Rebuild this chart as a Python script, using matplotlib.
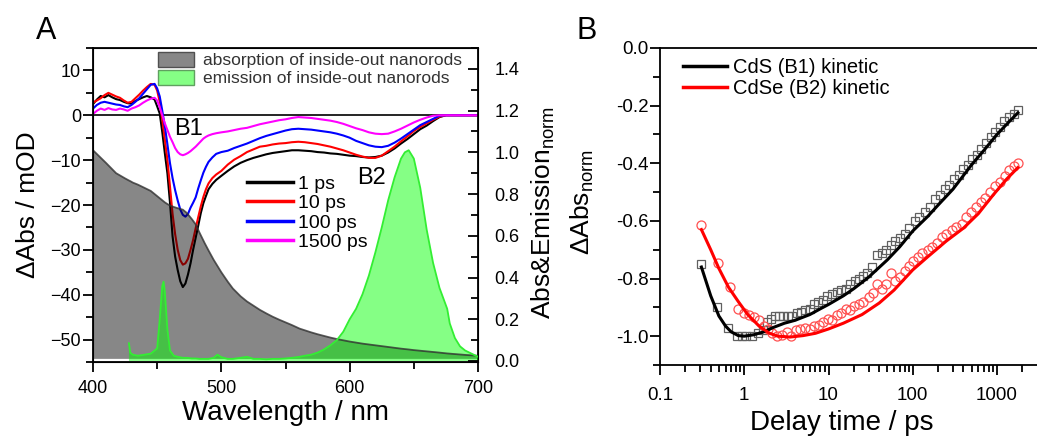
import numpy as np
import matplotlib
matplotlib.use('Agg')
import matplotlib.pyplot as plt
from matplotlib.patches import Patch
from matplotlib.lines import Line2D
from matplotlib.ticker import MultipleLocator, LogLocator, NullFormatter

plt.rcParams['font.family'] = ['Liberation Sans', 'DejaVu Sans']
plt.rcParams['mathtext.fontset'] = 'custom'
plt.rcParams['mathtext.rm'] = 'Liberation Sans'
plt.rcParams['mathtext.it'] = 'Liberation Sans'

# ---- transient absorption spectra (mOD) ----
wl = [400, 403, 406, 409, 412, 415, 418, 421, 424, 427, 430, 433, 436, 439, 442, 445, 448,
      450, 452, 454, 456, 458, 460, 462, 464, 466, 468, 470, 472, 474, 476, 478, 480, 482,
      484, 486, 488, 490, 493, 496, 500, 505, 510, 515, 520, 525, 530, 535, 540, 545, 550,
      555, 560, 565, 570, 575, 580, 585, 590, 595, 600, 605, 610, 615, 620, 625, 630, 635,
      640, 645, 650, 655, 660, 665, 670, 675, 680, 690, 700]
ta_1ps = [2.5, 3.5, 4.3, 4.0, 4.5, 4.0, 3.6, 3.4, 3.0, 2.7, 2.6, 3.2, 3.6, 4.0, 4.3, 4.0, 3.5,
          2.0, 0.4, -3.8, -8.5, -13.0, -19.5, -27.0, -31.5, -34.5, -37.0, -38.3, -37.5, -35.5,
          -33.0, -30.0, -27.3, -24.6, -21.8, -19.6, -18.0, -16.5, -15.3, -14.4, -13.5, -12.4,
          -11.4, -10.6, -10.0, -9.5, -9.1, -8.7, -8.4, -8.2, -8.0, -7.8, -7.8, -7.9, -8.0, -8.2,
          -8.3, -8.5, -8.6, -8.8, -9.0, -9.1, -9.3, -9.4, -9.3, -9.0, -8.3, -7.4, -6.3, -5.3,
          -4.2, -3.1, -2.3, -1.3, -0.4, 0.0, 0.0, 0.0, 0.0]
ta_10ps = [2.8, 3.3, 3.8, 4.5, 5.0, 4.6, 4.2, 3.9, 3.3, 2.8, 3.0, 3.8, 4.6, 5.5, 6.3, 7.0, 6.8,
           5.5, 3.0, -1.0, -5.5, -10.0, -15.9, -22.0, -26.5, -30.0, -32.3, -33.3, -33.0, -32.0,
           -30.0, -27.8, -25.2, -22.7, -20.3, -18.2, -16.5, -15.2, -14.0, -13.2, -12.4, -11.0,
           -9.9, -9.1, -8.2, -7.6, -7.0, -6.8, -6.5, -6.3, -6.2, -6.0, -5.9, -6.0, -6.2, -6.4,
           -6.7, -7.0, -7.4, -7.8, -8.3, -8.8, -9.2, -9.5, -9.5, -9.0, -8.0, -7.0, -5.8, -4.7,
           -3.5, -2.6, -1.8, -1.0, -0.3, 0.0, 0.0, 0.0, 0.0]
ta_100ps = [1.5, 2.3, 2.8, 3.0, 2.8, 2.6, 2.4, 2.3, 2.0, 1.8, 2.3, 3.0, 3.8, 4.8, 5.8, 6.8, 7.0,
            6.0, 4.2, 1.0, -2.5, -6.5, -10.7, -14.0, -16.7, -19.0, -21.0, -22.2, -22.6, -22.0,
            -20.6, -19.5, -18.3, -16.3, -14.5, -12.8, -11.5, -10.4, -9.4, -8.6, -8.2, -7.9,
            -7.3, -6.8, -6.3, -5.7, -5.1, -4.6, -4.2, -3.8, -3.4, -3.1, -3.0, -3.1, -3.2, -3.4,
            -3.6, -3.8, -4.1, -4.5, -5.0, -5.7, -6.2, -6.7, -7.0, -7.1, -6.8, -6.1, -5.2, -4.2,
            -3.2, -2.2, -1.5, -0.8, -0.1, 0.0, 0.0, 0.0, 0.0]
ta_1500ps = [0.3, 1.0, 1.5, 1.2, 1.6, 1.3, 1.2, 1.5, 1.3, 1.0, 1.5, 1.8, 2.2, 2.8, 3.3, 3.7, 3.9,
             3.3, 1.8, 0.0, -1.8, -3.3, -4.8, -6.0, -7.3, -8.2, -8.7, -8.9, -8.7, -8.4, -8.0,
             -7.5, -7.0, -6.4, -5.8, -5.2, -4.8, -4.5, -4.2, -4.0, -3.8, -3.6, -3.3, -3.0, -2.8,
             -2.4, -2.0, -1.7, -1.4, -1.1, -0.9, -0.6, -0.4, -0.5, -0.6, -0.8, -1.0, -1.2, -1.5,
             -1.9, -2.4, -2.9, -3.3, -3.8, -4.1, -4.2, -4.1, -3.6, -3.0, -2.3, -1.6, -1.0, -0.5,
             -0.1, 0.0, 0.0, 0.0, 0.0, 0.0]
delays = ['1 ps', '10 ps', '100 ps', '1500 ps']
colors = ['black', '#ff0000', '#0000ff', '#ff00ff']

# ---- steady state absorption / emission (normalized) ----
wl_ss = [400, 405, 410, 418, 425, 428, 429, 431, 435, 440, 445, 450, 452, 454, 455, 456, 458,
         460, 463, 466, 470, 473, 477, 480, 483, 487, 490, 494, 497, 500, 505, 509, 515, 520,
         525, 530, 535, 540, 545, 550, 555, 561, 565, 570, 575, 580, 585, 590, 595, 600, 605,
         610, 615, 620, 625, 630, 635, 640, 643, 646, 650, 655, 660, 665, 670, 673, 676, 678,
         682, 686, 690, 695, 700]
absorption = [1.01, 0.98, 0.95, 0.90, 0.875, 0.865, 0.862, 0.855, 0.845, 0.83, 0.815, 0.79,
              0.78, 0.77, 0.765, 0.76, 0.752, 0.745, 0.738, 0.732, 0.725, 0.71, 0.68, 0.655,
              0.615, 0.565, 0.53, 0.485, 0.455, 0.425, 0.38, 0.347, 0.31, 0.285, 0.265, 0.245,
              0.228, 0.212, 0.198, 0.185, 0.172, 0.155, 0.147, 0.137, 0.128, 0.12, 0.112, 0.105,
              0.099, 0.093, 0.088, 0.083, 0.079, 0.075, 0.071, 0.067, 0.063, 0.059, 0.057, 0.055,
              0.052, 0.049, 0.046, 0.043, 0.04, 0.038, 0.036, 0.035, 0.033, 0.031, 0.029, 0.027,
              0.025]
emission = [np.nan, np.nan, np.nan, np.nan, np.nan, 0.085, 0.04, 0.03, 0.025, 0.03, 0.035, 0.06,
            0.2, 0.36, 0.38, 0.33, 0.15, 0.05, 0.025, 0.02, 0.015, 0.015, 0.012, 0.012, 0.01,
            0.01, 0.01, 0.015, 0.03, 0.018, 0.01, 0.01, 0.015, 0.02, 0.01, 0.01, 0.008, 0.01,
            0.01, 0.012, 0.015, 0.02, 0.025, 0.03, 0.04, 0.055, 0.075, 0.10, 0.14, 0.20, 0.25,
            0.32, 0.41, 0.52, 0.64, 0.77, 0.88, 0.97, 1.0, 1.01, 0.97, 0.83, 0.63, 0.47, 0.35,
            0.30, 0.25, 0.18, 0.11, 0.07, 0.05, 0.035, 0.02]

# ---- kinetics (normalized) ----
t_cds = [0.31, 0.47, 0.65, 0.82, 0.95, 1.05, 1.25, 1.45, 1.65, 1.85, 2.1, 2.3, 2.6, 2.9, 3.3,
         3.7, 4.2, 4.7, 5.3, 6.0, 6.8, 7.6, 8.6, 9.6, 11, 12.5, 14, 16, 18, 20.5, 23, 26, 29, 33,
         38, 43, 48, 55, 62, 70, 80, 90, 105, 120, 140, 160, 185, 210, 240, 270, 310, 350, 400,
         450, 510, 580, 650, 740, 840, 950, 1080, 1220, 1390, 1580, 1770]
cds = [-0.75, -0.90, -0.97, -1.0, -1.0, -1.0, -1.0, -0.99, -0.98, -0.95, -0.94, -0.93, -0.93,
       -0.93, -0.93, -0.93, -0.92, -0.915, -0.91, -0.905, -0.89, -0.88, -0.875, -0.86, -0.855,
       -0.845, -0.84, -0.835, -0.82, -0.81, -0.80, -0.79, -0.78, -0.76, -0.72, -0.71, -0.70,
       -0.685, -0.67, -0.66, -0.645, -0.625, -0.60, -0.585, -0.57, -0.55, -0.525, -0.51, -0.49,
       -0.475, -0.455, -0.44, -0.42, -0.405, -0.385, -0.37, -0.35, -0.33, -0.31, -0.29, -0.275,
       -0.255, -0.24, -0.23, -0.215]
t_cdse = [0.31, 0.49, 0.68, 0.85, 1.0, 1.15, 1.3, 1.48, 1.7, 1.9, 2.15, 2.45, 2.8, 3.2, 3.6,
          4.1, 4.6, 5.2, 6.0, 6.8, 7.7, 8.7, 9.8, 11, 12.5, 14, 16, 18, 20, 23, 26, 30, 34, 38,
          43, 48, 55, 62, 70, 80, 90, 100, 115, 130, 150, 170, 195, 220, 250, 290, 330, 380, 430,
          490, 560, 640, 730, 830, 950, 1080, 1230, 1400, 1600, 1770]
cdse = [-0.615, -0.745, -0.83, -0.905, -0.92, -0.925, -0.935, -0.945, -0.965, -0.975, -0.99,
        -1.0, -0.995, -0.985, -1.0, -0.98, -0.975, -0.97, -0.975, -0.965, -0.96, -0.95, -0.94,
        -0.945, -0.925, -0.92, -0.905, -0.91, -0.895, -0.89, -0.88, -0.865, -0.85, -0.82,
        -0.835, -0.82, -0.78, -0.81, -0.795, -0.775, -0.755, -0.74, -0.725, -0.71, -0.70, -0.69,
        -0.675, -0.655, -0.645, -0.63, -0.62, -0.61, -0.585, -0.57, -0.55, -0.535, -0.52, -0.50,
        -0.48, -0.465, -0.445, -0.425, -0.41, -0.40]
t_fit_cds = [0.31, 0.4, 0.5, 0.6, 0.7, 0.85, 1.0, 1.3, 1.7, 2.2, 3, 4, 6, 8, 10, 15, 20, 30, 50,
             70, 100, 150, 200, 300, 500, 700, 1000, 1400, 1770]
fit_cds = [-0.76, -0.86, -0.93, -0.965, -0.985, -0.998, -1.0, -0.995, -0.985, -0.97, -0.955,
           -0.945, -0.925, -0.905, -0.89, -0.86, -0.835, -0.795, -0.735, -0.69, -0.635, -0.585,
           -0.545, -0.49, -0.405, -0.355, -0.30, -0.255, -0.225]
t_fit_cdse = [0.31, 0.4, 0.5, 0.65, 0.85, 1.1, 1.5, 2, 2.5, 3.5, 5, 7, 10, 15, 25, 40, 60, 100,
              150, 250, 400, 600, 900, 1300, 1770]
fit_cdse = [-0.63, -0.70, -0.765, -0.83, -0.88, -0.925, -0.965, -0.99, -1.0, -1.003, -0.998,
            -0.99, -0.975, -0.955, -0.925, -0.885, -0.84, -0.77, -0.725, -0.67, -0.625, -0.575,
            -0.51, -0.455, -0.415]

W, H = 1037, 436
fig = plt.figure(figsize=(W / 100, H / 100), dpi=100)

# ---------------- panel A ----------------
axA = fig.add_axes([93 / W, 1 - 362 / H, 385 / W, 314 / H])
axA.axhline(0, color='black', lw=1.2, zorder=1)
for y, c in zip([ta_1ps, ta_10ps, ta_100ps, ta_1500ps], colors):
    axA.plot(wl, y, color=c, lw=1.5, zorder=2)
axA.set_xlim(400, 700)
axA.set_ylim(-55, 15)
axA.xaxis.set_major_locator(MultipleLocator(100))
axA.xaxis.set_minor_locator(MultipleLocator(50))
axA.yaxis.set_major_locator(MultipleLocator(10))
axA.yaxis.set_minor_locator(MultipleLocator(5))
axA.tick_params(which='both', direction='out', labelsize=13, width=1.3)
axA.tick_params(which='major', length=7)
axA.tick_params(which='minor', length=5)
axA.tick_params(axis='y', pad=1.5)
axA.tick_params(axis='x', pad=6)
for s in axA.spines.values():
    s.set_linewidth(1.3)
axA.set_xlabel('Wavelength / nm', fontsize=20, va='center')
axA.xaxis.set_label_coords(0.501, -0.162)
axA.set_ylabel('ΔAbs / mOD', fontsize=19, va='center')
axA.yaxis.set_label_coords(-0.169, 0.5)
axA.text(474.8, -3.1, 'B1', fontsize=17, ha='center', va='center')
axA.text(617.4, -14, 'B2', fontsize=17, ha='center', va='center')

line_handles = [Line2D([], [], color=c, lw=2.5) for c in colors]
axA.legend(line_handles, delays, loc='upper left', bbox_to_anchor=(247 / W, 1 - 175 / H),
           bbox_transform=fig.transFigure, frameon=False, fontsize=14, handlelength=2.37,
           handletextpad=0.26, labelspacing=0.1, borderpad=0, borderaxespad=0)

# steady state spectra on the right axis
axA2 = axA.twinx()
abs_arr = np.array(absorption)
em_arr = np.array(emission)
axA2.fill_between(wl_ss, 0.01, abs_arr, facecolor=(0, 0, 0, 0.47), edgecolor='none')
axA2.plot(wl_ss, abs_arr, color='#303030', lw=1.3, alpha=0.8)
axA2.fill_between(wl_ss, 0, em_arr, facecolor=(0, 1, 0, 0.48), edgecolor='none')
axA2.plot(wl_ss, em_arr, color='#33ee33', lw=1.3)
axA2.set_ylim(-0.005, 1.5)
axA2.yaxis.set_major_locator(MultipleLocator(0.2))
axA2.yaxis.set_minor_locator(MultipleLocator(0.1))
axA2.tick_params(which='both', direction='in', labelsize=13, width=1.3, pad=12)
axA2.tick_params(which='major', length=7)
axA2.tick_params(which='minor', length=5)
axA2.set_ylabel('Abs&Emission$_{\\rm norm}$', fontsize=19, va='center', rotation=90)
axA2.yaxis.set_label_coords(1.169, 0.475)

fill_handles = [Patch(facecolor=(0, 0, 0, 0.47), edgecolor='#505050'),
                Patch(facecolor=(0, 1, 0, 0.48), edgecolor='#60a060')]
axA2.legend(fill_handles, ['absorption of inside-out nanorods', 'emission of inside-out nanorods'],
            loc='upper left', bbox_to_anchor=(158 / W, 1 - 52 / H), bbox_transform=fig.transFigure,
            frameon=False, fontsize=12.5, handlelength=2.1, handleheight=0.92,
            handletextpad=0.5, labelspacing=0.1, borderpad=0, borderaxespad=0,
            labelcolor='#333333')

# ---------------- panel B ----------------
xmax = 0.1 * 10 ** ((W - 660) / 84.25)
axB = fig.add_axes([660 / W, 1 - 365 / H, (W - 660) / W, 317 / H])
axB.set_xscale('log')
axB.plot(t_cds, cds, ls='none', marker='s', ms=5.5, mfc='none', mec='#606060', mew=0.9)
axB.plot(t_cdse, cdse, ls='none', marker='o', ms=6.5, mfc='none', mec='#ff5050', mew=0.9)
axB.plot(t_fit_cds, fit_cds, color='black', lw=2.2)
axB.plot(t_fit_cdse, fit_cdse, color='#ff0000', lw=2.2)
axB.set_xlim(0.1, xmax)
axB.set_ylim(-1.1, 0.0)
axB.yaxis.set_major_locator(MultipleLocator(0.2))
axB.yaxis.set_minor_locator(MultipleLocator(0.1))
axB.yaxis.set_major_formatter(matplotlib.ticker.FormatStrFormatter('%.1f'))
axB.xaxis.set_major_locator(LogLocator(base=10, numticks=10))
axB.xaxis.set_minor_locator(LogLocator(base=10, subs=np.arange(2, 10), numticks=10))
axB.xaxis.set_minor_formatter(NullFormatter())
axB.xaxis.set_major_formatter(matplotlib.ticker.FuncFormatter(lambda v, p: '%g' % v))
axB.tick_params(which='both', direction='out', labelsize=13.5, width=1.3)
axB.tick_params(which='major', length=7)
axB.tick_params(which='minor', length=5)
axB.tick_params(axis='y', pad=1)
axB.tick_params(axis='x', pad=9)
axB.spines['right'].set_visible(False)
for s in axB.spines.values():
    s.set_linewidth(1.3)
axB.set_xlabel('Delay time / ps', fontsize=20, va='center')
axB.xaxis.set_label_coords(0.483, -0.183)
axB.set_ylabel('ΔAbs$_{\\rm norm}$', fontsize=19, va='center')
axB.yaxis.set_label_coords(-0.207, 0.514)
axB.legend([Line2D([], [], color='black', lw=2.5), Line2D([], [], color='#ff0000', lw=2.5)],
           ['CdS (B1) kinetic', 'CdSe (B2) kinetic'], loc='upper left',
           bbox_to_anchor=(683 / W, 1 - 58 / H), bbox_transform=fig.transFigure,
           frameon=False, fontsize=14.5, handlelength=2.2, handletextpad=0.3,
           labelspacing=0.12, borderpad=0, borderaxespad=0)

fig.text(46 / W, 1 - 31 / H, 'A', fontsize=22, ha='center', va='center')
fig.text(587 / W, 1 - 31 / H, 'B', fontsize=22, ha='center', va='center')

fig.savefig('out.png', dpi=100)
